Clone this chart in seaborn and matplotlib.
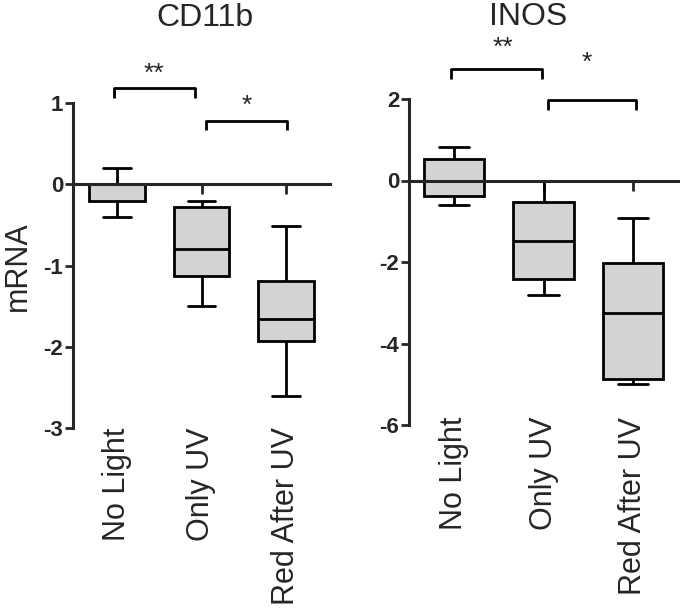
import numpy as np
import pandas as pd
import matplotlib
matplotlib.use("Agg")
import matplotlib.pyplot as plt
import seaborn as sns

# ---------------- data (five-number summaries: min, q1, median, q3, max) ----
categories = ["No Light", "Only UV", "Red After UV"]

cd11b_no_light = [-0.40, -0.20, 0.00, 0.00, 0.20]
cd11b_only_uv = [-1.50, -1.13, -0.80, -0.28, -0.21]
cd11b_red_after_uv = [-2.61, -1.93, -1.66, -1.19, -0.51]

inos_no_light = [-0.60, -0.38, 0.00, 0.53, 0.81]
inos_only_uv = [-2.80, -2.41, -1.49, -0.53, 0.00]
inos_red_after_uv = [-5.00, -4.88, -3.25, -2.03, -0.92]

cd11b_ticks = [-3, -2, -1, 0, 1]
inos_ticks = [-6, -4, -2, 0, 2]

sig_labels = ["**", "*"]

BOX_FILL = "#d3d3d3"


def long_df(groups):
    rows = []
    for cat, vals in zip(categories, groups):
        for v in vals:
            rows.append({"group": cat, "value": v})
    return pd.DataFrame(rows)


df_cd11b = long_df([cd11b_no_light, cd11b_only_uv, cd11b_red_after_uv])
df_inos = long_df([inos_no_light, inos_only_uv, inos_red_after_uv])

sns.set_style("ticks")
plt.rcParams["font.family"] = ["Liberation Sans", "DejaVu Sans"]

fig = plt.figure(figsize=(6.8, 6.12), dpi=100)
axL = fig.add_axes([73 / 680, 1 - 428 / 612, 257 / 680, 325 / 612])
axR = fig.add_axes([409 / 680, 1 - 425 / 612, 271 / 680, 326 / 612])


def draw(ax, df, ticks, width, xlim, pad):
    sns.boxplot(data=df, x="group", y="value", order=categories, ax=ax,
                whis=(0, 100), width=width, color=BOX_FILL, linecolor="black",
                linewidth=2.0, saturation=1, showfliers=False)
    ax.set_xlim(xlim)
    ax.set_ylim(ticks[0], ticks[-1])
    ax.set_xlabel("")
    ax.set_ylabel("")
    for s in ["top", "right"]:
        ax.spines[s].set_visible(False)
    ax.spines["bottom"].set_position(("data", 0))
    ax.spines["bottom"].set_linewidth(2.2)
    ax.spines["left"].set_linewidth(2.2)
    ax.spines["bottom"].set_zorder(3)
    ax.tick_params(axis="x", direction="out", length=7, width=2.0,
                   pad=pad, labelsize=22, labelrotation=90)
    ax.set_yticks(ticks)
    ax.set_yticklabels([str(t) for t in ticks])
    ax.tick_params(axis="y", direction="out", length=6, width=2.0,
                   pad=1, labelsize=16)
    for lab in ax.get_yticklabels():
        lab.set_fontweight("bold")
    ax.set_facecolor("white")


draw(axL, df_cd11b, cd11b_ticks, 0.66, (-0.52, 2.52), 168)
draw(axR, df_inos, inos_ticks, 0.68, (-0.503, 2.525), 163)


def bracket(ax, x0, x1, y_top, y_leg, label, y_text, x_text):
    ax.plot([x0, x0, x1, x1], [y_leg, y_top, y_top, y_leg], color="black",
            lw=2.0, clip_on=False, solid_capstyle="butt")
    ax.text(x_text, y_text, label, ha="center", va="center", fontsize=19,
            clip_on=False)


bracket(axL, -0.035, 0.92, 1.18, 1.06, sig_labels[0], 1.36, 0.44)
bracket(axL, 1.05, 2.01, 0.78, 0.67, sig_labels[1], 0.96, 1.54)

bracket(axR, -0.03, 0.98, 2.74, 2.49, sig_labels[0], 3.25, 0.55)
bracket(axR, 1.05, 2.03, 1.98, 1.73, sig_labels[1], 2.88, 1.48)

fig.text(205 / 680, 1 - 18 / 612, "CD11b", ha="center", va="center", fontsize=23)
fig.text(528 / 680, 1 - 17 / 612, "INOS", ha="center", va="center", fontsize=23)
fig.text(18 / 680, 1 - 266 / 612, "mRNA", ha="center", va="center",
         rotation=90, fontsize=22)

fig.savefig("out.png", dpi=100, facecolor="white")
